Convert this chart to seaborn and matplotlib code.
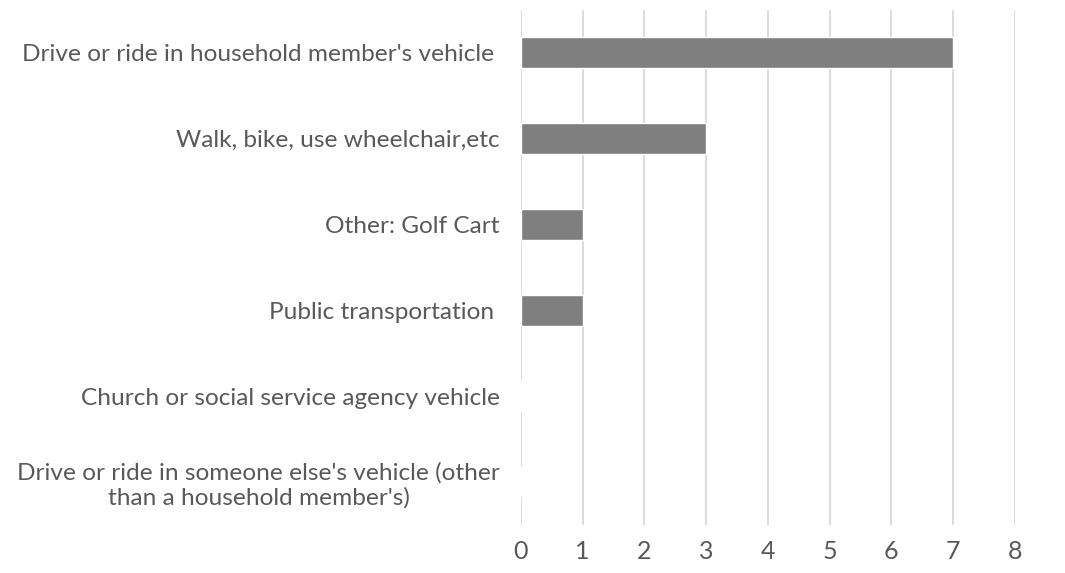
import matplotlib
matplotlib.use("Agg")
import matplotlib.pyplot as plt
import seaborn as sns
import pandas as pd

categories = [
    "Drive or ride in household member's vehicle ",
    "Walk, bike, use wheelchair,etc",
    "Other: Golf Cart",
    "Public transportation ",
    "Church or social service agency vehicle",
    "Drive or ride in someone else's vehicle (other\nthan a household member's)",
]
counts = [7, 3, 1, 1, 0, 0]
x_ticks = [0, 1, 2, 3, 4, 5, 6, 7, 8]

sns.set_style("white")
plt.rcParams["font.family"] = ["Lato", "DejaVu Sans"]

df = pd.DataFrame({"mode": categories, "count": counts})

fig = plt.figure(figsize=(10.65, 5.73), dpi=100)
ax = fig.add_axes([0.489, 0.084, 0.464, 0.899])

sns.barplot(data=df, x="count", y="mode", orient="h", color="#7f7f7f",
            saturation=1, width=0.36, ax=ax, zorder=3)

ax.set_xlim(0, 8)
ax.set_ylim(5.5, -0.5)
ax.set_xticks(x_ticks)
ax.grid(axis="x", color="#d9d9d9", linewidth=1.3, zorder=0)
ax.grid(axis="y", visible=False)
for s in ax.spines.values():
    s.set_visible(False)
ax.set_xlabel("")
ax.set_ylabel("")
ax.tick_params(axis="x", length=0, pad=11, labelsize=18, labelcolor="#595959")
ax.tick_params(axis="y", length=0, pad=15, labelsize=17.6, labelcolor="#595959")
for lbl in ax.get_yticklabels():
    lbl.set_multialignment("center")
    lbl.set_linespacing(1.2)

fig.savefig("out.png", dpi=100)
